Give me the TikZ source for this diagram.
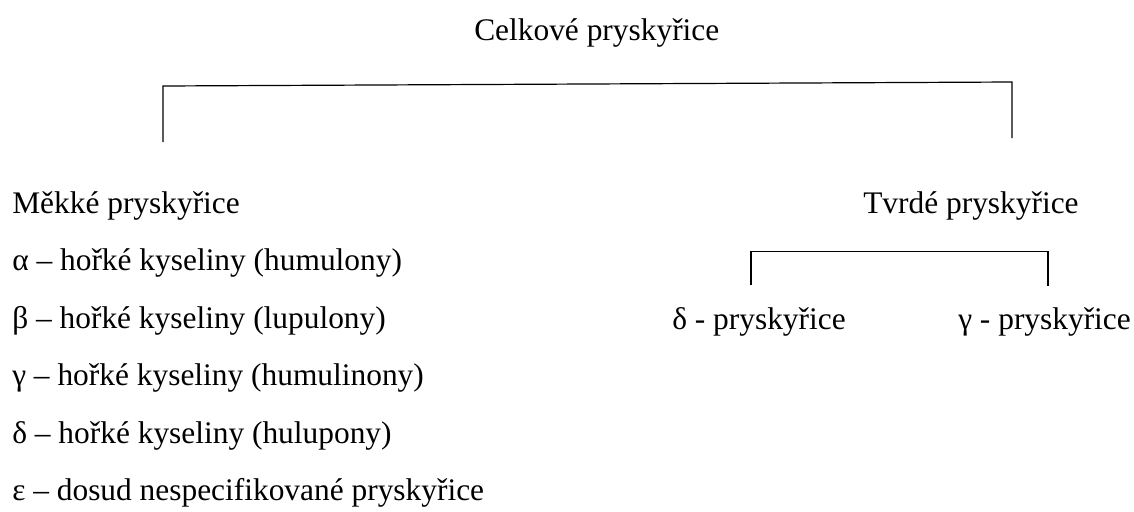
\documentclass[tikz,border=0pt]{standalone}
\usepackage{fontspec}
\setmainfont{Liberation Serif}
\tikzset{txt/.style={anchor=base west, inner sep=0pt, font=\fontsize{23.55}{28}\selectfont}}

\begin{document}
\begin{tikzpicture}[x=0.75pt,y=-0.75pt]
        \useasboundingbox (0,0) rectangle (1134,511);

        \node[txt] (celk) at (474,40) {Celkové pryskyřice};
        \node[txt] (mekke) at (12,213) {Měkké pryskyřice};
        \node[txt] (tvrde) at (863,213) {Tvrdé pryskyřice};

        \node[txt] (alfa) at (12,270.5) {α – hořké kyseliny (humulony)};
        \node[txt] (beta) at (12,328) {β – hořké kyseliny (lupulony)};
        \node[txt] (gama) at (12,385.5) {γ – hořké kyseliny (humulinony)};
        \node[txt] (delta) at (12,443) {δ – hořké kyseliny (hulupony)};
        \node[txt] (eps) at (12,500.5) {ε – dosud nespecifikované pryskyřice};

        \node[txt] (dpry) at (672,329) {δ - pryskyřice};
        \node[txt] (gpry) at (958,329) {γ - pryskyřice};

        \coordinate (bigl) at (163,142);
        \coordinate (bigtl) at (163,86);
        \coordinate (bigtr) at (1012,82);
        \coordinate (bigr) at (1012,138);
        \draw [black, line width=0.9pt] (bigl) -- (bigtl) -- (bigtr) -- (bigr);

        \coordinate (smll) at (751,285);
        \coordinate (smltl) at (751,251.5);
        \coordinate (smltr) at (1048,251.5);
        \coordinate (smlr) at (1048,286);
        \draw [black, line width=0.9pt] (smll) -- (smltl) -- (smltr) -- (smlr);

\end{tikzpicture}
\end{document}
